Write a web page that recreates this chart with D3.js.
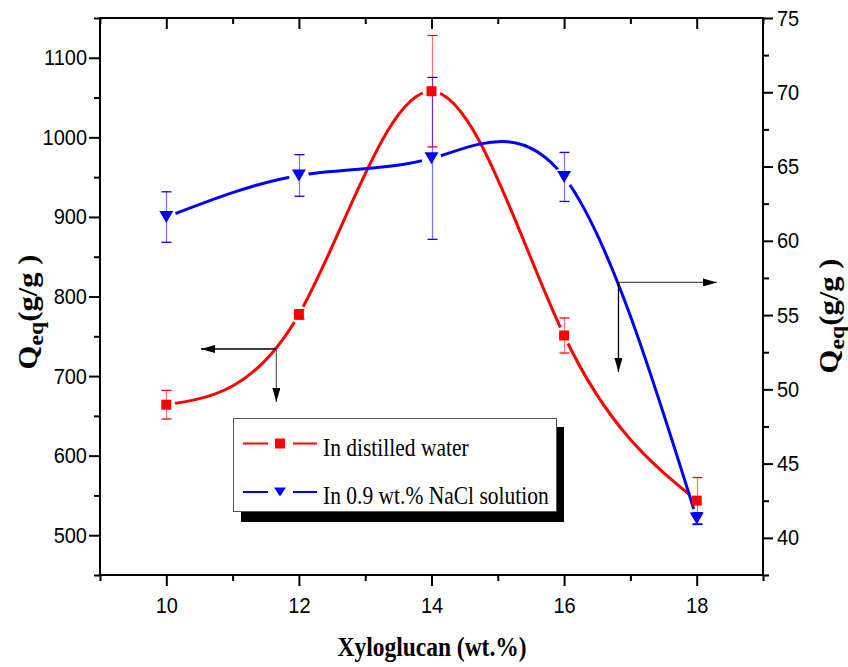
<!DOCTYPE html>
<html><head><meta charset="utf-8">
<script src="https://cdn.jsdelivr.net/npm/d3@7/dist/d3.min.js"></script>
<style>
html,body{margin:0;padding:0;background:#fff;}
svg{display:block;}
</style></head>
<body>
<svg id="chart" width="848" height="667"></svg>
<script>
// ---- data ----
const xValues = [10, 12, 14, 16, 18];
const waterQ = [664, 777.5, 1058, 751, 543.5];
const waterErr = [18, 6, 70, 22, 29];
const naclQ = [61.6, 64.4, 65.55, 64.3, 41.3];
const naclErr = [1.7, 1.4, 5.45, 1.65, 0.4];
const xMajorTicks = [10, 12, 14, 16, 18];
const xMinorTicks = [9, 11, 13, 15, 17, 19];
const leftMajorTicks = [500, 600, 700, 800, 900, 1000, 1100];
const leftMinorTicks = [450, 550, 650, 750, 850, 950, 1050, 1150];
const rightMajorTicks = [40, 45, 50, 55, 60, 65, 70, 75];
const rightMinorTicks = [37.5, 42.5, 47.5, 52.5, 57.5, 62.5, 67.5, 72.5];
const legendLabels = ["In distilled water", "In 0.9 wt.% NaCl solution"];
const xTitle = "Xyloglucan (wt.%)";

const SY = 1.136; // vertical stretch of text in reference
const sans = "'Liberation Sans', Arial, sans-serif";
const serif = "'Liberation Serif', 'Times New Roman', serif";

const svg = d3.select("#chart");
const L = 100, R = 763, T = 18, B = 575;
const x = d3.scaleLinear().domain([9, 19]).range([L, R]);
const yL = d3.scaleLinear().domain([450, 1150]).range([B, T]);
const yR = d3.scaleLinear().domain([37.5, 75]).range([B, T]);

// ---- axes ----
function styleAxis(g) {
  g.select(".domain").remove();
  g.selectAll(".tick line").attr("stroke", "#000").attr("stroke-width", 2);
}
// bottom
svg.append("g").attr("transform", `translate(0,${B})`)
  .call(d3.axisBottom(x).tickValues(xMinorTicks).tickSize(6).tickFormat("")).call(styleAxis);
const gB = svg.append("g").attr("transform", `translate(0,${B})`)
  .call(d3.axisBottom(x).tickValues(xMajorTicks).tickSize(11).tickFormat(d3.format("d"))).call(styleAxis);
gB.selectAll(".tick text").attr("y", null).attr("dy", null)
  .attr("transform", `translate(0,38) scale(1,${SY})`)
  .attr("font-family", sans).attr("font-size", 20).attr("fill", "#000");
// top (inward)
svg.append("g").attr("transform", `translate(0,${T})`)
  .call(d3.axisBottom(x).tickValues(xMinorTicks).tickSize(6).tickFormat("")).call(styleAxis);
svg.append("g").attr("transform", `translate(0,${T})`)
  .call(d3.axisBottom(x).tickValues(xMajorTicks).tickSize(11).tickFormat("")).call(styleAxis);
// left
svg.append("g").attr("transform", `translate(${L},0)`)
  .call(d3.axisLeft(yL).tickValues(leftMinorTicks).tickSize(6).tickFormat("")).call(styleAxis);
const gL = svg.append("g").attr("transform", `translate(${L},0)`)
  .call(d3.axisLeft(yL).tickValues(leftMajorTicks).tickSize(11).tickFormat(d3.format("d"))).call(styleAxis);
gL.selectAll(".tick text").attr("x", null).attr("dy", null)
  .attr("transform", `translate(-13,7) scale(1,${SY})`)
  .attr("font-family", sans).attr("font-size", 20).attr("fill", "#000");
// right
svg.append("g").attr("transform", `translate(${R},0)`)
  .call(d3.axisRight(yR).tickValues(rightMinorTicks).tickSize(6).tickFormat("")).call(styleAxis);
const gR = svg.append("g").attr("transform", `translate(${R},0)`)
  .call(d3.axisRight(yR).tickValues(rightMajorTicks).tickSize(10).tickFormat(d3.format("d"))).call(styleAxis);
gR.selectAll(".tick text").attr("x", null).attr("dy", null)
  .attr("transform", `translate(14,7) scale(1,${SY})`)
  .attr("font-family", sans).attr("font-size", 20).attr("fill", "#000");
// frame
svg.append("rect").attr("x", L).attr("y", T).attr("width", R - L).attr("height", B - T)
  .attr("fill", "none").attr("stroke", "#000").attr("stroke-width", 2);

// ---- mask for line gaps near markers ----
const defs = svg.append("defs");
function makeMask(id, yScale, vals, r) {
  const m = defs.append("mask").attr("id", id).attr("maskUnits", "userSpaceOnUse")
    .attr("x", 0).attr("y", 0).attr("width", 848).attr("height", 667);
  m.append("rect").attr("width", 848).attr("height", 667).attr("fill", "#fff");
  m.selectAll("circle").data(vals).join("circle")
    .attr("cx", (d, i) => x(xValues[i])).attr("cy", d => yScale(d)).attr("r", r).attr("fill", "#000");
}
makeMask("mRed", yL, waterQ, 9);
makeMask("mBlue", yR, naclQ, 10);

const lineL = d3.line().x((d, i) => x(xValues[i])).y(d => yL(d)).curve(d3.curveNatural);
const lineR = d3.line().x((d, i) => x(xValues[i])).y(d => yR(d)).curve(d3.curveNatural);

svg.append("path").attr("d", lineL(waterQ)).attr("fill", "none").attr("stroke", "#ff0000")
  .attr("stroke-width", 3).attr("mask", "url(#mRed)");
svg.append("path").attr("d", lineR(naclQ)).attr("fill", "none").attr("stroke", "#0000ff")
  .attr("stroke-width", 3).attr("mask", "url(#mBlue)");

// ---- error bars ----
function errBars(yScale, vals, errs, color) {
  const g = svg.append("g");
  vals.forEach((v, i) => {
    const cx = Math.round(x(xValues[i])) + 0.5;
    const y1 = yScale(v + errs[i]), y2 = yScale(v - errs[i]);
    g.append("line").attr("x1", cx).attr("x2", cx).attr("y1", y1).attr("y2", y2)
      .attr("stroke", color).attr("stroke-width", 1.2).attr("stroke-opacity", 0.55);
    [y1, y2].forEach(yy => g.append("line").attr("x1", cx - 5).attr("x2", cx + 5)
      .attr("y1", yy).attr("y2", yy).attr("stroke", color).attr("stroke-width", 1.3));
  });
}
errBars(yL, waterQ, waterErr, "#ff0000");
errBars(yR, naclQ, naclErr, "#0000ff");

// ---- markers ----
const triPath = "M-7,-6L7,-6L0,6Z";
svg.append("g").selectAll("rect").data(waterQ).join("rect")
  .attr("x", (d, i) => x(xValues[i]) - 5).attr("y", d => yL(d) - 5)
  .attr("width", 10).attr("height", 10).attr("fill", "#ff0000");
svg.append("g").selectAll("path").data(naclQ).join("path")
  .attr("transform", (d, i) => `translate(${x(xValues[i])},${yR(d)})`)
  .attr("d", triPath).attr("fill", "#0000ff");

// ---- arrows ----
defs.append("marker").attr("id", "ah").attr("viewBox", "0 0 14 8").attr("refX", 14).attr("refY", 4)
  .attr("markerWidth", 14).attr("markerHeight", 8).attr("markerUnits", "userSpaceOnUse")
  .attr("orient", "auto").append("path").attr("d", "M0,0L14,4L0,8Z").attr("fill", "#000");
function arrow(x1, y1, x2, y2, col) {
  svg.append("line").attr("x1", x1).attr("y1", y1).attr("x2", x2).attr("y2", y2)
    .attr("stroke", col).attr("stroke-width", 1.3).attr("marker-end", "url(#ah)");
}
// left-pointing pair (red -> left axis)
const lc = [x(11.66), yL(734)];
arrow(lc[0], lc[1], 201, lc[1], "#000");
arrow(lc[0], lc[1], lc[0], 402, "#666");
// right-pointing pair (blue -> right axis)
const rc = [x(16.82), yR(57.2)];
arrow(rc[0], rc[1], 717, rc[1], "#555");
arrow(rc[0], rc[1], rc[0], 372, "#000");

// ---- legend ----
const lg = svg.append("g");
lg.append("rect").attr("x", 241).attr("y", 427).attr("width", 323).attr("height", 95).attr("fill", "#000");
lg.append("rect").attr("x", 233.5).attr("y", 418.5).attr("width", 323).attr("height", 93)
  .attr("fill", "#fff").attr("stroke", "#555").attr("stroke-width", 1);
const legColors = ["#ff0000", "#0000ff"];
const legY = [443.5, 492];
legendLabels.forEach((lab, i) => {
  const yy = legY[i];
  lg.append("line").attr("x1", 243).attr("x2", 268).attr("y1", yy).attr("y2", yy)
    .attr("stroke", legColors[i]).attr("stroke-width", 2);
  lg.append("line").attr("x1", 293).attr("x2", 317).attr("y1", yy).attr("y2", yy)
    .attr("stroke", legColors[i]).attr("stroke-width", 2);
  if (i === 0) {
    lg.append("rect").attr("x", 275).attr("y", yy - 5).attr("width", 10).attr("height", 10).attr("fill", legColors[i]);
  } else {
    lg.append("path").attr("transform", `translate(280,${yy})`).attr("d", "M-6,-4.5L6,-4.5L0,4.5Z").attr("fill", legColors[i]);
  }
  lg.append("text").attr("transform", `translate(323,${yy + 12}) scale(1,${SY})`)
    .attr("font-family", serif).attr("font-size", 21.5).attr("fill", "#000").text(lab);
});

// ---- axis titles ----
svg.append("text").attr("transform", `translate(432,656) scale(1,${SY})`)
  .attr("text-anchor", "middle").attr("font-family", serif).attr("font-weight", "bold")
  .attr("font-size", 23.5).attr("fill", "#000").text(xTitle);

function yTitle(cx, cy) {
  const t = svg.append("text").attr("transform", `translate(${cx},${cy}) rotate(-90) scale(${SY},1)`)
    .attr("text-anchor", "middle").attr("font-family", serif).attr("font-weight", "bold")
    .attr("font-size", 27).attr("fill", "#000");
  t.append("tspan").text("Q");
  t.append("tspan").attr("font-size", 21).attr("dy", 6).text("eq");
  t.append("tspan").attr("dy", -6).text("(g/g )");
}
yTitle(37, 312);
yTitle(838, 316);
</script>
</body></html>
